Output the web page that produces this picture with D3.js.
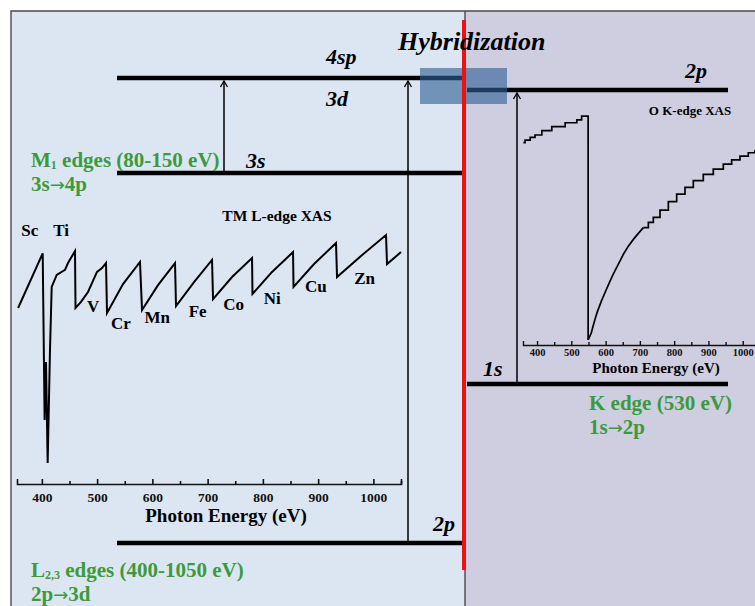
<!DOCTYPE html>
<html>
<head>
<meta charset="utf-8">
<script src="https://cdn.jsdelivr.net/npm/d3@7"></script>
<style>
  body { margin: 0; background: #fff; }
  svg { display: block; }
  text { font-family: "Liberation Serif", "Times New Roman", serif; font-weight: bold; }
</style>
</head>
<body>
<svg class="chart"></svg>
<script>
// TM L-edge XAS, photon energy (eV) vs. intensity (arb. units)
const tmEnergy = [357, 401.5, 405, 407.5, 410.5, 414.7, 417.8, 426.9, 441.9, 447.3,
  460, 460.9, 470.8, 483.5, 499.8, 508.9, 516.1, 517.9, 546.9, 577.6,
  581.3, 610.2, 641, 642.8, 675.4, 708, 709.8, 744.2, 780.4, 781.2,
  816.6, 854.6, 855.5, 892.6, 932.4, 934.2, 977.6, 1022.9, 1024.7, 1050];
const tmIntensity = [6.93, 9.08, 2.52, 4.80, 0.83, 5.28, 7.76, 8.23, 8.43, 8.70,
  9.17, 6.93, 7.17, 7.56, 8.35, 8.50, 8.70, 6.73, 7.87, 8.74,
  6.85, 7.83, 8.70, 7.00, 7.95, 8.82, 7.28, 8.15, 8.90, 7.48,
  8.35, 9.13, 7.76, 8.66, 9.49, 8.15, 8.98, 9.80, 8.66, 9.13];
const tmElements = ["Sc", "Ti", "V", "Cr", "Mn", "Fe", "Co", "Ni", "Cu", "Zn"];
const tmLabelEnergy = [378, 435, 493, 543, 609, 682, 747, 817, 896, 984];
const tmLabelIntensity = [10.0, 10.0, 7.0, 6.34, 6.57, 6.81, 7.09, 7.32, 7.8, 8.11];

// O K-edge XAS
const oEnergy = [360, 365, 380, 394, 414, 443, 482, 516, 530, 549,
  558.4, 564.3, 570.1, 576, 587.6, 599.3, 610.9, 622.6, 637.2, 651.8,
  666.3, 681, 695.5, 710.1, 724.7, 739.2, 758.7, 783, 807.3, 831.6,
  855.9, 885, 914.2, 943.4, 967.7, 992, 1016.3, 1035.7];
const oIntensity = [8.43, 8.54, 8.65, 8.75, 8.93, 9.10, 9.26, 9.38, 9.54, 0.21,
  0.51, 0.83, 1.12, 1.39, 1.83, 2.22, 2.60, 2.96, 3.37, 3.78,
  4.12, 4.40, 4.65, 4.89, 5.11, 5.32, 5.62, 5.97, 6.29, 6.57,
  6.85, 7.11, 7.33, 7.54, 7.71, 7.87, 8.01, 8.12];

const majorTicks = [400, 500, 600, 700, 800, 900, 1000];
const minorTicks = [450, 550, 650, 750, 850, 950, 1050];

// energy level diagram (schematic energies)
const levelNames = ["4sp", "3s", "2p", "2p", "1s"];
const levelAtom = ["TM", "TM", "TM", "O", "O"];
const levelEnergy = [96.4, 77.4, 3.4, 94.0, 35.2];

// absorption edges
const edgeFrom = [1, 2, 4];
const edgeTo = [0, 0, 3];
const edgeMain = ["M", "L", "K"];
const edgeSub = ["1", "2,3", ""];
const edgeRange = [" edges (80-150 eV)", " edges (400-1050 eV)", " edge (530 eV)"];
const edgeStart = ["3s", "2p", "1s"];
const edgeEnd = ["4p", "3d", "2p"];

const width = 755, height = 606;
const green = "#3c9a3c";

let svg = d3.select(".chart")
  .attr("width", width)
  .attr("height", height);

// panels
svg.append("rect").attr("x", 11).attr("y", 11).attr("width", 454).attr("height", height)
  .attr("fill", "#dce6f2");
svg.append("rect").attr("x", 465).attr("y", 11).attr("width", width - 465).attr("height", height)
  .attr("fill", "#cfcde0");
svg.append("path").attr("d", `M11,${height}V11H${width}M465,11V${height}`)
  .attr("fill", "none").attr("stroke", "#4a4a4a").attr("stroke-width", 1.4);

// ---- TM L-edge inset
let xTM = d3.scaleLinear().domain([355, 1050]).range([17, 401]);
let yTM = d3.scaleLinear().domain([0, 10]).range([484, 230]);

let tmAxis = svg.append("g").attr("transform", "translate(0,484)");
tmAxis.call(d3.axisBottom(xTM).tickValues(majorTicks).tickFormat(d3.format("d"))
  .tickSize(-5).tickPadding(8));
tmAxis.append("g").call(d3.axisBottom(xTM).tickValues(minorTicks).tickSize(-3).tickSizeOuter(0).tickFormat(""))
  .select(".domain").remove();
tmAxis.selectAll("path, line").attr("stroke", "#111").attr("stroke-width", 1.6);
tmAxis.selectAll("text").attr("font-family", "Liberation Serif").attr("font-weight", "bold")
  .attr("font-size", 13.5).attr("fill", "#111");

svg.append("text").attr("x", 226).attr("y", 522)
  .attr("text-anchor", "middle").attr("font-size", 19).text("Photon Energy (eV)");
svg.append("text").attr("x", 277).attr("y", 221)
  .attr("text-anchor", "middle").attr("font-size", 15.5).text("TM L-edge XAS");

svg.append("path")
  .datum(d3.range(tmEnergy.length))
  .attr("fill", "none").attr("stroke", "#000").attr("stroke-width", 2)
  .attr("d", d3.line().x(i => xTM(tmEnergy[i])).y(i => yTM(tmIntensity[i])));

svg.append("g").selectAll("text")
  .data(tmElements)
  .enter().append("text")
  .attr("x", (d, i) => xTM(tmLabelEnergy[i]))
  .attr("y", (d, i) => yTM(tmLabelIntensity[i]))
  .attr("dy", "0.35em")
  .attr("text-anchor", "middle")
  .attr("font-size", 17)
  .text(d => d);

// ---- O K-edge inset
let xO = d3.scaleLinear().domain([359, 1100]).range([523, 777]);
let yO = d3.scaleLinear().domain([0, 10]).range([345, 105]);

let oAxis = svg.append("g").attr("transform", "translate(0,345)");
oAxis.call(d3.axisBottom(xO).tickValues(majorTicks).tickFormat(d3.format("d"))
  .tickSize(-4).tickPadding(4));
oAxis.append("g").call(d3.axisBottom(xO).tickValues(minorTicks).tickSize(-3).tickSizeOuter(0).tickFormat(""))
  .select(".domain").remove();
oAxis.selectAll("path, line").attr("stroke", "#111").attr("stroke-width", 1.4);
oAxis.selectAll("text").attr("font-family", "Liberation Serif").attr("font-weight", "bold")
  .attr("font-size", 10.5).attr("fill", "#111");

svg.append("text").attr("x", 656).attr("y", 373)
  .attr("text-anchor", "middle").attr("font-size", 15).text("Photon Energy (eV)");
svg.append("text").attr("x", 690).attr("y", 115)
  .attr("text-anchor", "middle").attr("font-size", 13).text("O K-edge XAS");

// stairs before the edge and in the flat tail, smooth through the steep rise
const oLine = d3.line().x(i => xO(oEnergy[i])).y(i => yO(oIntensity[i]));
const oParts = [[0, 9, d3.curveStepAfter], [9, 23, d3.curveLinear], [23, oEnergy.length - 1, d3.curveStepAfter]];
svg.append("g").selectAll("path")
  .data(oParts)
  .enter().append("path")
  .attr("fill", "none").attr("stroke", "#000").attr("stroke-width", 1.7)
  .attr("d", p => oLine.curve(p[2])(d3.range(p[0], p[1] + 1)));

// ---- energy levels
let yLevel = d3.scaleLinear().domain([0, 100]).range([560, 60]);
const sideX = { TM: [117, 463], O: [467, 728] };

svg.append("g").selectAll("line")
  .data(levelEnergy)
  .enter().append("line")
  .attr("x1", (d, i) => sideX[levelAtom[i]][0])
  .attr("x2", (d, i) => sideX[levelAtom[i]][1])
  .attr("y1", d => yLevel(d))
  .attr("y2", d => yLevel(d))
  .attr("stroke", "#000").attr("stroke-width", 4.5);

// arrows
svg.append("defs").append("marker")
  .attr("id", "head")
  .attr("markerUnits", "userSpaceOnUse")
  .attr("markerWidth", 10).attr("markerHeight", 10)
  .attr("refX", 7).attr("refY", 4).attr("orient", "auto")
  .append("path").attr("d", "M1,0.5L7,4L1,7.5")
  .attr("fill", "none").attr("stroke", "#000").attr("stroke-width", 1.3);

const arrowX = [224, 408, 517];
svg.append("g").selectAll("line")
  .data(edgeFrom)
  .enter().append("line")
  .attr("x1", (d, i) => arrowX[i]).attr("x2", (d, i) => arrowX[i])
  .attr("y1", d => yLevel(levelEnergy[d]) - 2)
  .attr("y2", (d, i) => yLevel(levelEnergy[edgeTo[i]]) + 3)
  .attr("stroke", "#000").attr("stroke-width", 1.5)
  .attr("marker-end", "url(#head)");

// hybridization box
svg.append("rect")
  .attr("x", 420).attr("width", 87)
  .attr("y", yLevel(levelEnergy[0]) - 10)
  .attr("height", yLevel(levelEnergy[3]) - yLevel(levelEnergy[0]) + 24)
  .attr("fill", "#2f5f94").attr("fill-opacity", 0.62);

// red divider
svg.append("line").attr("x1", 464).attr("x2", 464).attr("y1", 20).attr("y2", 570)
  .attr("stroke", "#ee1111").attr("stroke-width", 4);

// level labels
const levelLabels = [
  { text: "4sp", x: 326, dy: -14 },
  { text: "3d", x: 326, dy: 28 },
  { text: "3s", x: 246, dy: -5 },
  { text: "2p", x: 433, dy: -12 },
  { text: "2p", x: 685, dy: -12 },
  { text: "1s", x: 483, dy: -8 }
];
const labelLevel = [0, 0, 1, 2, 3, 4];
svg.append("g").selectAll("text")
  .data(levelLabels)
  .enter().append("text")
  .attr("x", d => d.x)
  .attr("y", (d, i) => yLevel(levelEnergy[labelLevel[i]]) + d.dy)
  .attr("font-style", "italic")
  .attr("font-size", 22)
  .text(d => d.text);

svg.append("text").attr("x", 398).attr("y", 50)
  .attr("font-style", "italic").attr("font-size", 26).text("Hybridization");

// edge labels
const edgeLabelPos = [[31, 167], [31, 577], [589, 410]];
edgeMain.forEach((m, i) => {
  let t = svg.append("text")
    .attr("x", edgeLabelPos[i][0]).attr("y", edgeLabelPos[i][1])
    .attr("fill", green).attr("font-size", 21);
  t.append("tspan").text(m);
  if (edgeSub[i]) {
    t.append("tspan").attr("font-size", 12).attr("dy", 2).text(edgeSub[i]);
    t.append("tspan").attr("dy", -2).text(edgeRange[i]);
  } else {
    t.append("tspan").text(edgeRange[i]);
  }
  let s = svg.append("text")
    .attr("x", edgeLabelPos[i][0]).attr("y", edgeLabelPos[i][1] + 24)
    .attr("fill", green).attr("font-size", 21);
  s.append("tspan").text(edgeStart[i]);
  s.append("tspan").attr("font-family", "DejaVu Sans").attr("font-weight", "normal")
    .attr("font-size", 18).text("\u2192");
  s.append("tspan").text(edgeEnd[i]);
});
</script>
</body>
</html>
